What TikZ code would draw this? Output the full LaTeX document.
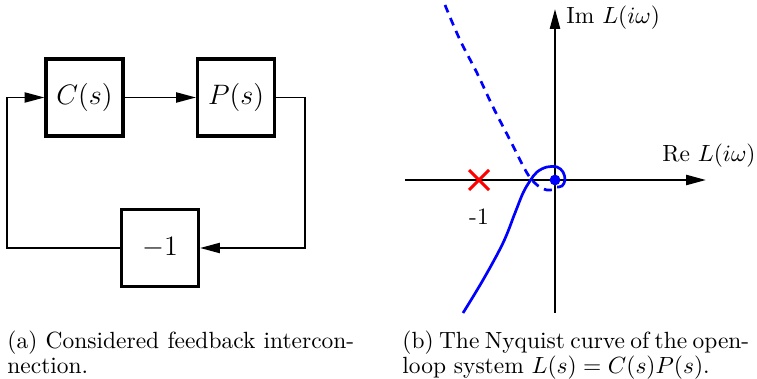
\documentclass[tikz,border=0pt]{standalone}
\usetikzlibrary{arrows.meta}
\begin{document}
\begin{tikzpicture}[x=0.015cm,y=-0.015cm,
  blk/.style={draw, line width=1.3pt, minimum width=1.155cm, minimum height=1.155cm, inner sep=0pt, font=\large},
  conn/.style={line width=0.8pt, -{Triangle[length=8.5pt,width=4.3pt]}},
  ax/.style={line width=0.9pt, -{Triangle[length=8.5pt,width=4.3pt]}},
  nyq/.style={blue, line width=1.15pt},
  captxt/.style={anchor=north west, inner sep=0pt, align=justify, text width=148pt,
    font=\fontsize{10}{10.7}\selectfont}
]
\useasboundingbox (0,0) rectangle (757,379);
% ---- left: block diagram
\node[blk] (C) at (84.5,97.5) {$C(s)$};
\node[blk] (P) at (236,97.5) {$P(s)$};
\node[blk] (M) at (160,248) {$-1$};
\coordinate (R) at (305,97.5);
\coordinate (L) at (7,97.5);
\draw[conn] (C) -- (P);
\draw[conn] (P.east) -- (R) |- (M.east);
\draw[conn] (M.west) -| (L) -- (C.west);
% ---- right: Nyquist plot
\coordinate (ReS) at (405,180);
\coordinate (ReE) at (706,180);
\coordinate (ImS) at (555,313);
\coordinate (ImE) at (555,9);
\draw[ax] (ReS) -- (ReE);
\draw[ax] (ImS) -- (ImE);
\node[anchor=west, inner sep=0pt] (imlab) at (566,18) {Im $L(i\omega)$};
\node[anchor=west, inner sep=0pt] (relab) at (662,156) {Re $L(i\omega)$};
\draw[red, line width=1.3pt] (469,170) -- (489,190) (469,190) -- (489,170);
\node (m1) at (479,217) {-1};
\draw[nyq] plot[smooth, tension=0.6] coordinates {(463,313) (483,280) (503,243) (515,213) (523,193) (530,181) (537,172) (547,167) (557,167) (563,172) (565,180) (562,186) (557,187)};
\draw[nyq, dash pattern=on 3.4pt off 2.6pt] plot[smooth, tension=0.6] coordinates {(445,5) (460,40) (477,73) (493,107) (510,140) (527,173) (537,185) (547,190) (555,189)};
\fill[blue] (555,180) circle (2.3pt);
% ---- captions
\node[captxt] (capa) at (7,330) {(a) Considered feedback intercon-\linebreak nection.};
\node[captxt] (capb) at (402,330) {(b) The Nyquist curve of the open-\linebreak loop system $L(s)=C(s)P(s)$.};
\end{tikzpicture}
\end{document}
